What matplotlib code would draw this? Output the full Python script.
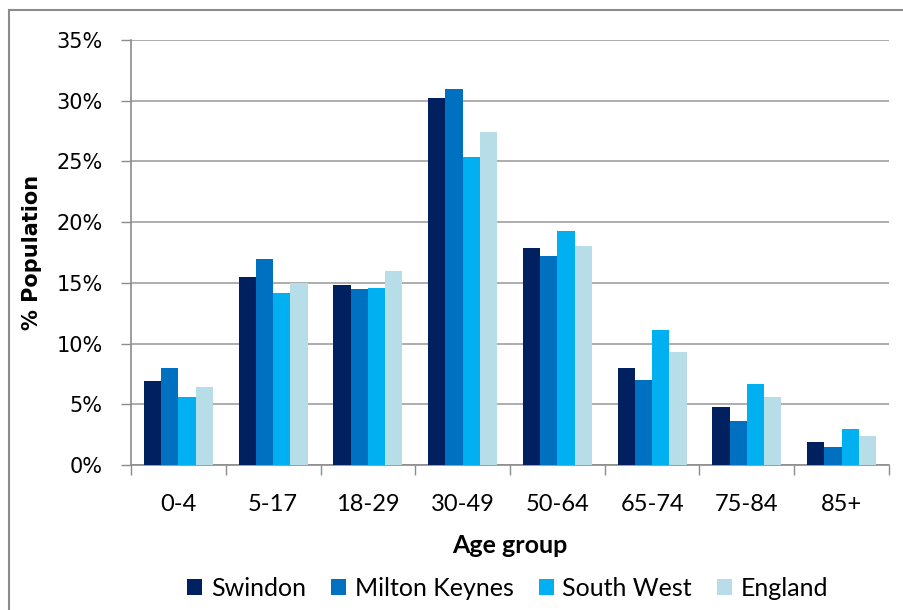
import numpy as np
import matplotlib.pyplot as plt
from matplotlib.patches import Rectangle
from matplotlib.ticker import FixedLocator, PercentFormatter

plt.rcParams["font.family"] = ["Lato", "DejaVu Sans"]

age_groups = ["0-4", "5-17", "18-29", "30-49", "50-64", "65-74", "75-84", "85+"]
series_names = ["Swindon", "Milton Keynes", "South West", "England"]
swindon = [6.9, 15.5, 14.8, 30.2, 17.9, 8.0, 4.8, 1.9]
milton_keynes = [8.0, 17.0, 14.5, 31.0, 17.2, 7.0, 3.6, 1.5]
south_west = [5.6, 14.2, 14.6, 25.4, 19.3, 11.1, 6.7, 3.0]
england = [6.4, 15.0, 16.0, 27.4, 18.0, 9.3, 5.6, 2.4]
colors = ["#002060", "#0070C0", "#00B0F0", "#B7DEE8"]

fig = plt.figure(figsize=(9.04, 6.1), dpi=100)
# chart frame (cut off at the top like the source)
fig.patches.append(Rectangle((9 / 904, -0.01), 1.0, 1 - 10 / 610 + 0.01,
                             transform=fig.transFigure, fill=False,
                             edgecolor="#8c8c8c", linewidth=1.5))

ax = fig.add_axes([131 / 904, 1 - 465 / 610, (889 - 131) / 904, (465 - 40) / 610])

x = np.arange(len(age_groups))
width = 0.73 / 4
for i, (vals, name, c) in enumerate(zip([swindon, milton_keynes, south_west, england],
                                        series_names, colors)):
    ax.bar(x + (i - 1.5) * width, vals, width, color=c, label=name, zorder=3)

ax.set_xlim(-0.5, len(age_groups) - 0.5)
ax.set_ylim(0, 35)
ax.set_yticks(np.arange(0, 36, 5))
ax.yaxis.set_major_formatter(PercentFormatter(decimals=0))
ax.set_xticks(x)
ax.set_xticklabels(age_groups)
ax.xaxis.set_minor_locator(FixedLocator(np.arange(-0.5, len(age_groups), 1)))
ax.tick_params(axis="x", which="major", length=0, labelsize=17, pad=21)
ax.tick_params(axis="x", which="minor", length=7, color="#8c8c8c", width=1)
ax.tick_params(axis="y", length=7.5, color="#8c8c8c", width=1, labelsize=15, pad=13)
for lbl in ax.get_yticklabels():
    lbl.set_family("DejaVu Sans")

ax.grid(axis="y", color="#a0a0a0", linewidth=1.2, zorder=0)
for s in ["top", "right"]:
    ax.spines[s].set_visible(False)
for s in ["left", "bottom"]:
    ax.spines[s].set_color("#8c8c8c")
    ax.spines[s].set_linewidth(1.2)

ax.set_xlabel("Age group", fontsize=18, fontweight="bold")
ax.xaxis.set_label_coords(0.5, -0.163)
ax.set_ylabel("% Population", fontsize=15, fontweight="bold", family="DejaVu Sans")
ax.yaxis.set_label_coords(-0.117, 0.5)

ax.legend(loc="center", bbox_to_anchor=(0.497, -0.29), ncol=4, frameon=False,
          fontsize=18, handlelength=0.6, handleheight=0.6, handletextpad=0.35,
          columnspacing=1.0)

fig.savefig("out.png", dpi=100)
